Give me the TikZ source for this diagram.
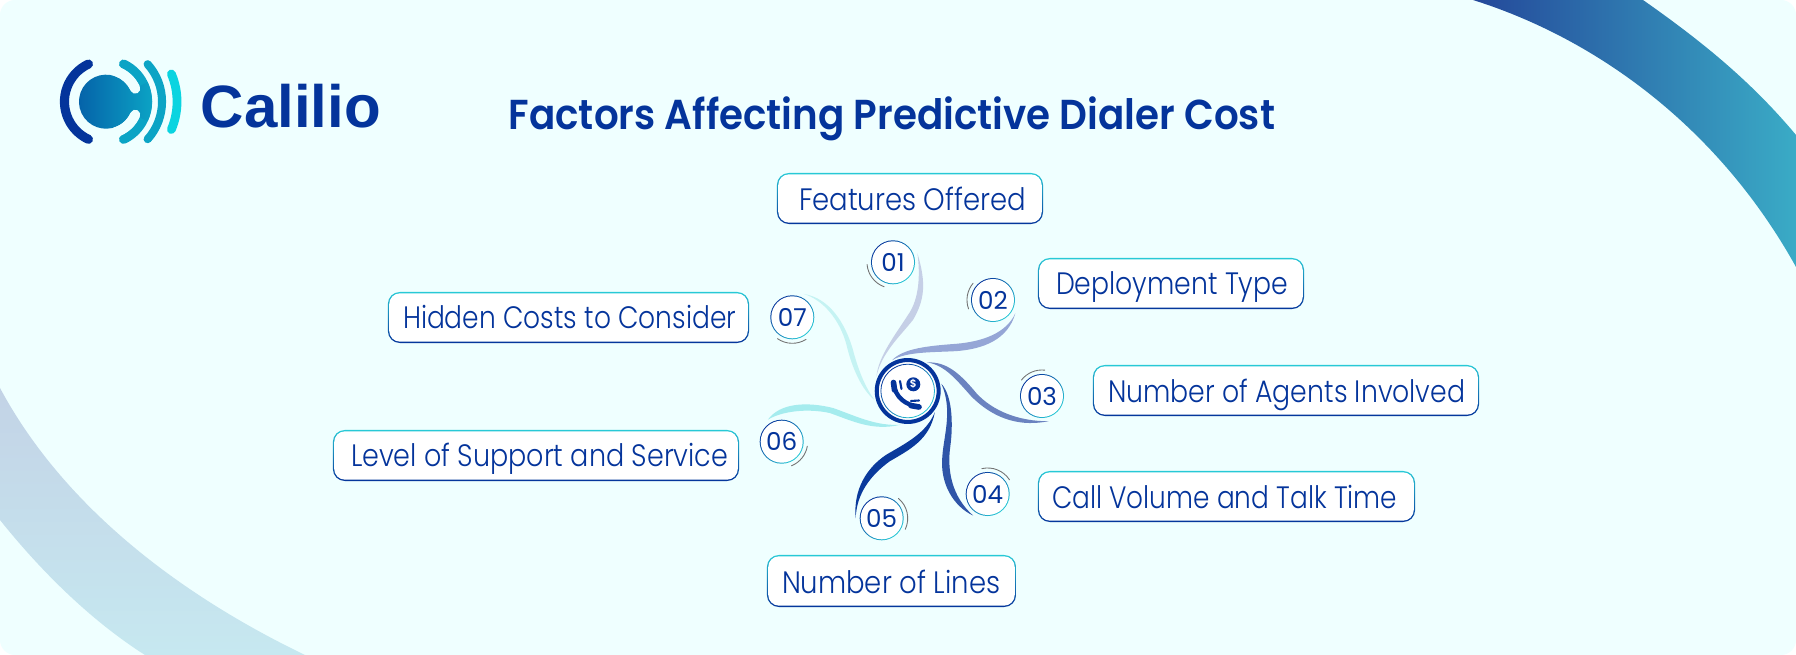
\documentclass[tikz,border=0pt]{standalone}
\usepackage{fontspec}
\usepackage{graphicx}
\usetikzlibrary{calc}
\setmainfont{Poppins Light}
\newfontfamily\titlefont{Poppins SemiBold}
\newfontfamily\numfont{Poppins}
\newfontfamily\logofont{Liberation Sans Bold}
\definecolor{pagebg}{HTML}{EFFFFF}
\definecolor{navy}{HTML}{04349B}
\definecolor{teal}{HTML}{27C9D6}
\definecolor{lgA}{HTML}{0560A8}
\definecolor{lgB}{HTML}{0BA4C5}
\definecolor{lgC}{HTML}{0AD4E0}
\definecolor{swA}{HTML}{C5CFE6}
\definecolor{swB}{HTML}{95A6D6}
\definecolor{swC}{HTML}{6B83C0}
\definecolor{swD}{HTML}{2F55A8}
\definecolor{swE}{HTML}{0A3A9C}
\definecolor{swF}{HTML}{A5ECEE}
\definecolor{swG}{HTML}{C5F3F3}
\definecolor{trA}{HTML}{24489A}
\definecolor{trB}{HTML}{3AABC6}
\definecolor{blA}{HTML}{C3D3E6}
\definecolor{blB}{HTML}{C6E8F0}
\newdimen\pxu \pxu=0.28453pt
\newcommand{\labelbox}[9]{%
  \node[boxouter,minimum width={(#4-#2)*0.28453pt},minimum height={(#5-#3)*0.28453pt}] (#1) at ({(#2+#4)/2},{(#3+#5)/2}) {};
  \node[boxinner,minimum width={(#4-#2-2.6)*0.28453pt},minimum height={(#5-#3-2.6)*0.28453pt}] (#1i) at ({(#2+#4)/2},{(#3+#5)/2}) {};
  \node[labeltext] (#1t) at (#6,#7) {\resizebox{#8\pxu}{\height}{#9}};
}
\newcommand{\numnode}[4]{%
  \node[numouter] (#1) at (#2,#3) {};
  \node[numinner] (#1i) at (#2,#3) {#4};
}
\newcommand{\glow}[3]{\draw[glowarc] ([shift={(#2:0.26cm)}]#1.center) arc[start angle=#2,end angle=#3,radius=0.26cm];}
\tikzset{
  x=0.01cm,y=-0.01cm,
  boxouter/.style={rectangle,rounded corners=3.4pt,top color=teal,bottom color=navy,inner sep=0pt,outer sep=0pt},
  boxinner/.style={rectangle,rounded corners=3.1pt,fill=white,inner sep=0pt,outer sep=0pt},
  labeltext/.style={anchor=base west,inner sep=0pt,outer sep=0pt,text=navy,font=\fontsize{8.8pt}{10pt}\selectfont},
  numouter/.style={circle,minimum size=12.52pt,inner sep=0pt,outer sep=1.14pt,top color=navy,bottom color=teal,shading angle=45},
  numinner/.style={circle,minimum size=11.95pt,inner sep=0pt,outer sep=0pt,fill=white,text=navy,font=\fontsize{7pt}{8pt}\numfont},
  glowarc/.style={draw=black!55,line width=0.25pt,line cap=round},
  hubring/.style={circle,draw=navy,line width=1.15pt,fill=white,minimum size=17.6pt,inner sep=0pt,outer sep=1pt},
}
\begin{document}
\begin{tikzpicture}
\useasboundingbox (0,0) rectangle (1796,655);
% page
\fill[white] (0,0) rectangle (1796,655);
\begin{scope}
\clip[rounded corners=4.3pt] (0,0) rectangle (1796,655);
\fill[pagebg] (0,0) rectangle (1796,655);
\shade[left color=trA,right color=trB]
  (1473,0) .. controls (1600,40) and (1720,130) .. (1796,267) -- (1796,135) .. controls (1750,80) and (1700,40) .. (1643,0) -- cycle;
\shade[top color=blA,bottom color=blB]
  (0,388) .. controls (60,500) and (170,590) .. (305,655) -- (145,655) .. controls (90,620) and (40,570) .. (0,520) -- cycle;
\end{scope}
% logo
\coordinate (lc) at (106,101.7);
\draw[navy,line width=2.6pt,line cap=round] ([shift={(115:0.415cm)}]lc) arc[start angle=115,end angle=245,radius=0.415cm];
\draw[lgB,line width=2.6pt,line cap=round] ([shift={(65:0.415cm)}]lc) arc[start angle=65,end angle=-65,radius=0.415cm];
\shade[left color=lgA,right color=lgB] ([shift={(25:0.27cm)}]lc) arc[start angle=25,end angle=335,radius=0.27cm] -- ([shift={(-25:0.46cm)}]lc) arc[start angle=-25,end angle=25,radius=0.46cm] -- cycle;
\draw[pagebg,line width=2.85pt,line cap=round] ([shift={(24:0.32cm)}]lc) arc[start angle=24,end angle=72,radius=0.32cm];
\draw[pagebg,line width=2.85pt,line cap=round] ([shift={(-24:0.32cm)}]lc) arc[start angle=-24,end angle=-72,radius=0.32cm];
\draw[lgB,line width=2.3pt,line cap=round] ([shift={(42:0.56cm)}]lc) arc[start angle=42,end angle=-42,radius=0.56cm];
\draw[lgC,line width=2.5pt,line cap=round] ([shift={(23:0.71cm)}]lc) arc[start angle=23,end angle=-23,radius=0.71cm];
\node[anchor=base west,inner sep=0pt,text=navy,font=\fontsize{17pt}{18pt}\logofont] (logo) at (200,128) {\resizebox{180\pxu}{\height}{Calilio}};
% title
\node[anchor=base west,inner sep=0pt,text=navy,font=\fontsize{11.9pt}{13pt}\titlefont] (title) at (508,130) {\resizebox{766\pxu}{\height}{Factors Affecting Predictive Dialer Cost}};
% label boxes
\labelbox{bA}{777}{173}{1043}{224}{799}{211}{227}{Features Offered}
\labelbox{bB}{1038}{258}{1304}{309}{1056}{295}{232}{Deployment Type}
\labelbox{bC}{1093}{365}{1479}{416}{1108}{403}{357}{Number of Agents Involved}
\labelbox{bD}{1038}{471}{1415}{522}{1052}{509}{345}{Call Volume and Talk Time}
\labelbox{bE}{767}{555}{1016}{607}{782}{594}{218}{Number of Lines}
\labelbox{bF}{333}{430}{739}{481}{351}{467}{377}{Level of Support and Service}
\labelbox{bG}{388}{292}{749}{343}{403}{329}{333}{Hidden Costs to Consider}
% hub
\node[hubring] (hub) at (907.7,391) {};
\shade[even odd rule,top color=navy,bottom color=teal,shading angle=45] (hub.center) circle[radius=0.272cm] (hub.center) circle[radius=0.264cm];
\node[circle,fill=navy,minimum size=3.98pt,inner sep=0pt,text=white,font=\fontsize{3pt}{3pt}\titlefont] (dollar) at (913.3,384.3) {\$};
\coordinate (hsA) at (893.5,382.5);
\coordinate (hsB) at (919,407);
\draw[navy,line width=1.25pt,line cap=round] (hsA) .. controls (895,398) and (906,405) .. (hsB);
\draw[navy,line width=1.6pt,line cap=round] (hsA) -- (894.5,390);
\draw[navy,line width=1.6pt,line cap=round] (911,405.6) -- (hsB);
\draw[navy,line width=0.6pt,line cap=round] (900,381) -- (901.5,389);
\draw[navy,line width=0.6pt,line cap=round] (911,401) -- (919,400.5);
% number nodes
\numnode{nA}{893}{262.3}{01}
\numnode{nB}{993}{300}{02}
\numnode{nC}{1042}{396}{03}
\numnode{nD}{987.7}{494}{04}
\numnode{nE}{881.7}{518.3}{05}
\numnode{nF}{781.7}{441.7}{06}
\numnode{nG}{792.3}{317.3}{07}
\glow{nA}{185}{250}
\glow{nB}{140}{200}
\glow{nC}{84}{142}
\glow{nD}{33}{103}
\glow{nE}{-25}{50}
\glow{nF}{-68}{-10}
\glow{nG}{235}{302}
% swirls (coordinates in 3x zoom units of the window at 740,220)
\begin{scope}[shift={(740,220)},x=0.003333cm,y=-0.003333cm]
\fill[swA] (hub.155) .. controls (415,410) and (470,340) .. (505,285) .. controls (530,250) and (545,190) .. (nA.20) .. controls (560,190) and (555,240) .. (520,300) .. controls (480,350) and (425,400) .. (hub.155) -- cycle;
\fill[swB] (hub.117) .. controls (490,385) and (570,378) .. (650,372) .. controls (730,365) and (800,340) .. (nB.-31) .. controls (805,360) and (730,388) .. (650,394) .. controls (580,398) and (500,395) .. (hub.117) -- cycle;
\fill[swC] (hub.56) .. controls (620,425) and (660,460) .. (710,520) .. controls (760,575) and (840,605) .. (nC.-76) .. controls (850,620) and (770,605) .. (695,530) .. controls (650,480) and (615,435) .. (hub.56) -- cycle;
\fill[swD] (hub.12) .. controls (640,530) and (640,620) .. (632,680) .. controls (622,750) and (635,830) .. (nD.236) .. controls (640,860) and (600,790) .. (608,710) .. controls (612,650) and (640,570) .. (hub.12) -- cycle;
\fill[swE] (hub.-38) .. controls (560,640) and (500,670) .. (440,705) .. controls (380,745) and (340,810) .. (nE.180) .. controls (350,820) and (395,765) .. (450,725) .. controls (510,690) and (570,660) .. (hub.-38) -- cycle;
\fill[swF] (hub.258) .. controls (410,620) and (350,590) .. (280,565) .. controls (200,545) and (120,550) .. (nF.122) .. controls (125,575) and (200,565) .. (270,580) .. controls (340,605) and (400,635) .. (hub.258) -- cycle;
\fill[swG] (hub.195) .. controls (365,510) and (335,440) .. (320,375) .. controls (300,300) and (250,240) .. (nG.64) .. controls (270,235) and (315,310) .. (338,385) .. controls (355,450) and (375,500) .. (hub.195) -- cycle;
\end{scope}
\end{tikzpicture}
\end{document}
